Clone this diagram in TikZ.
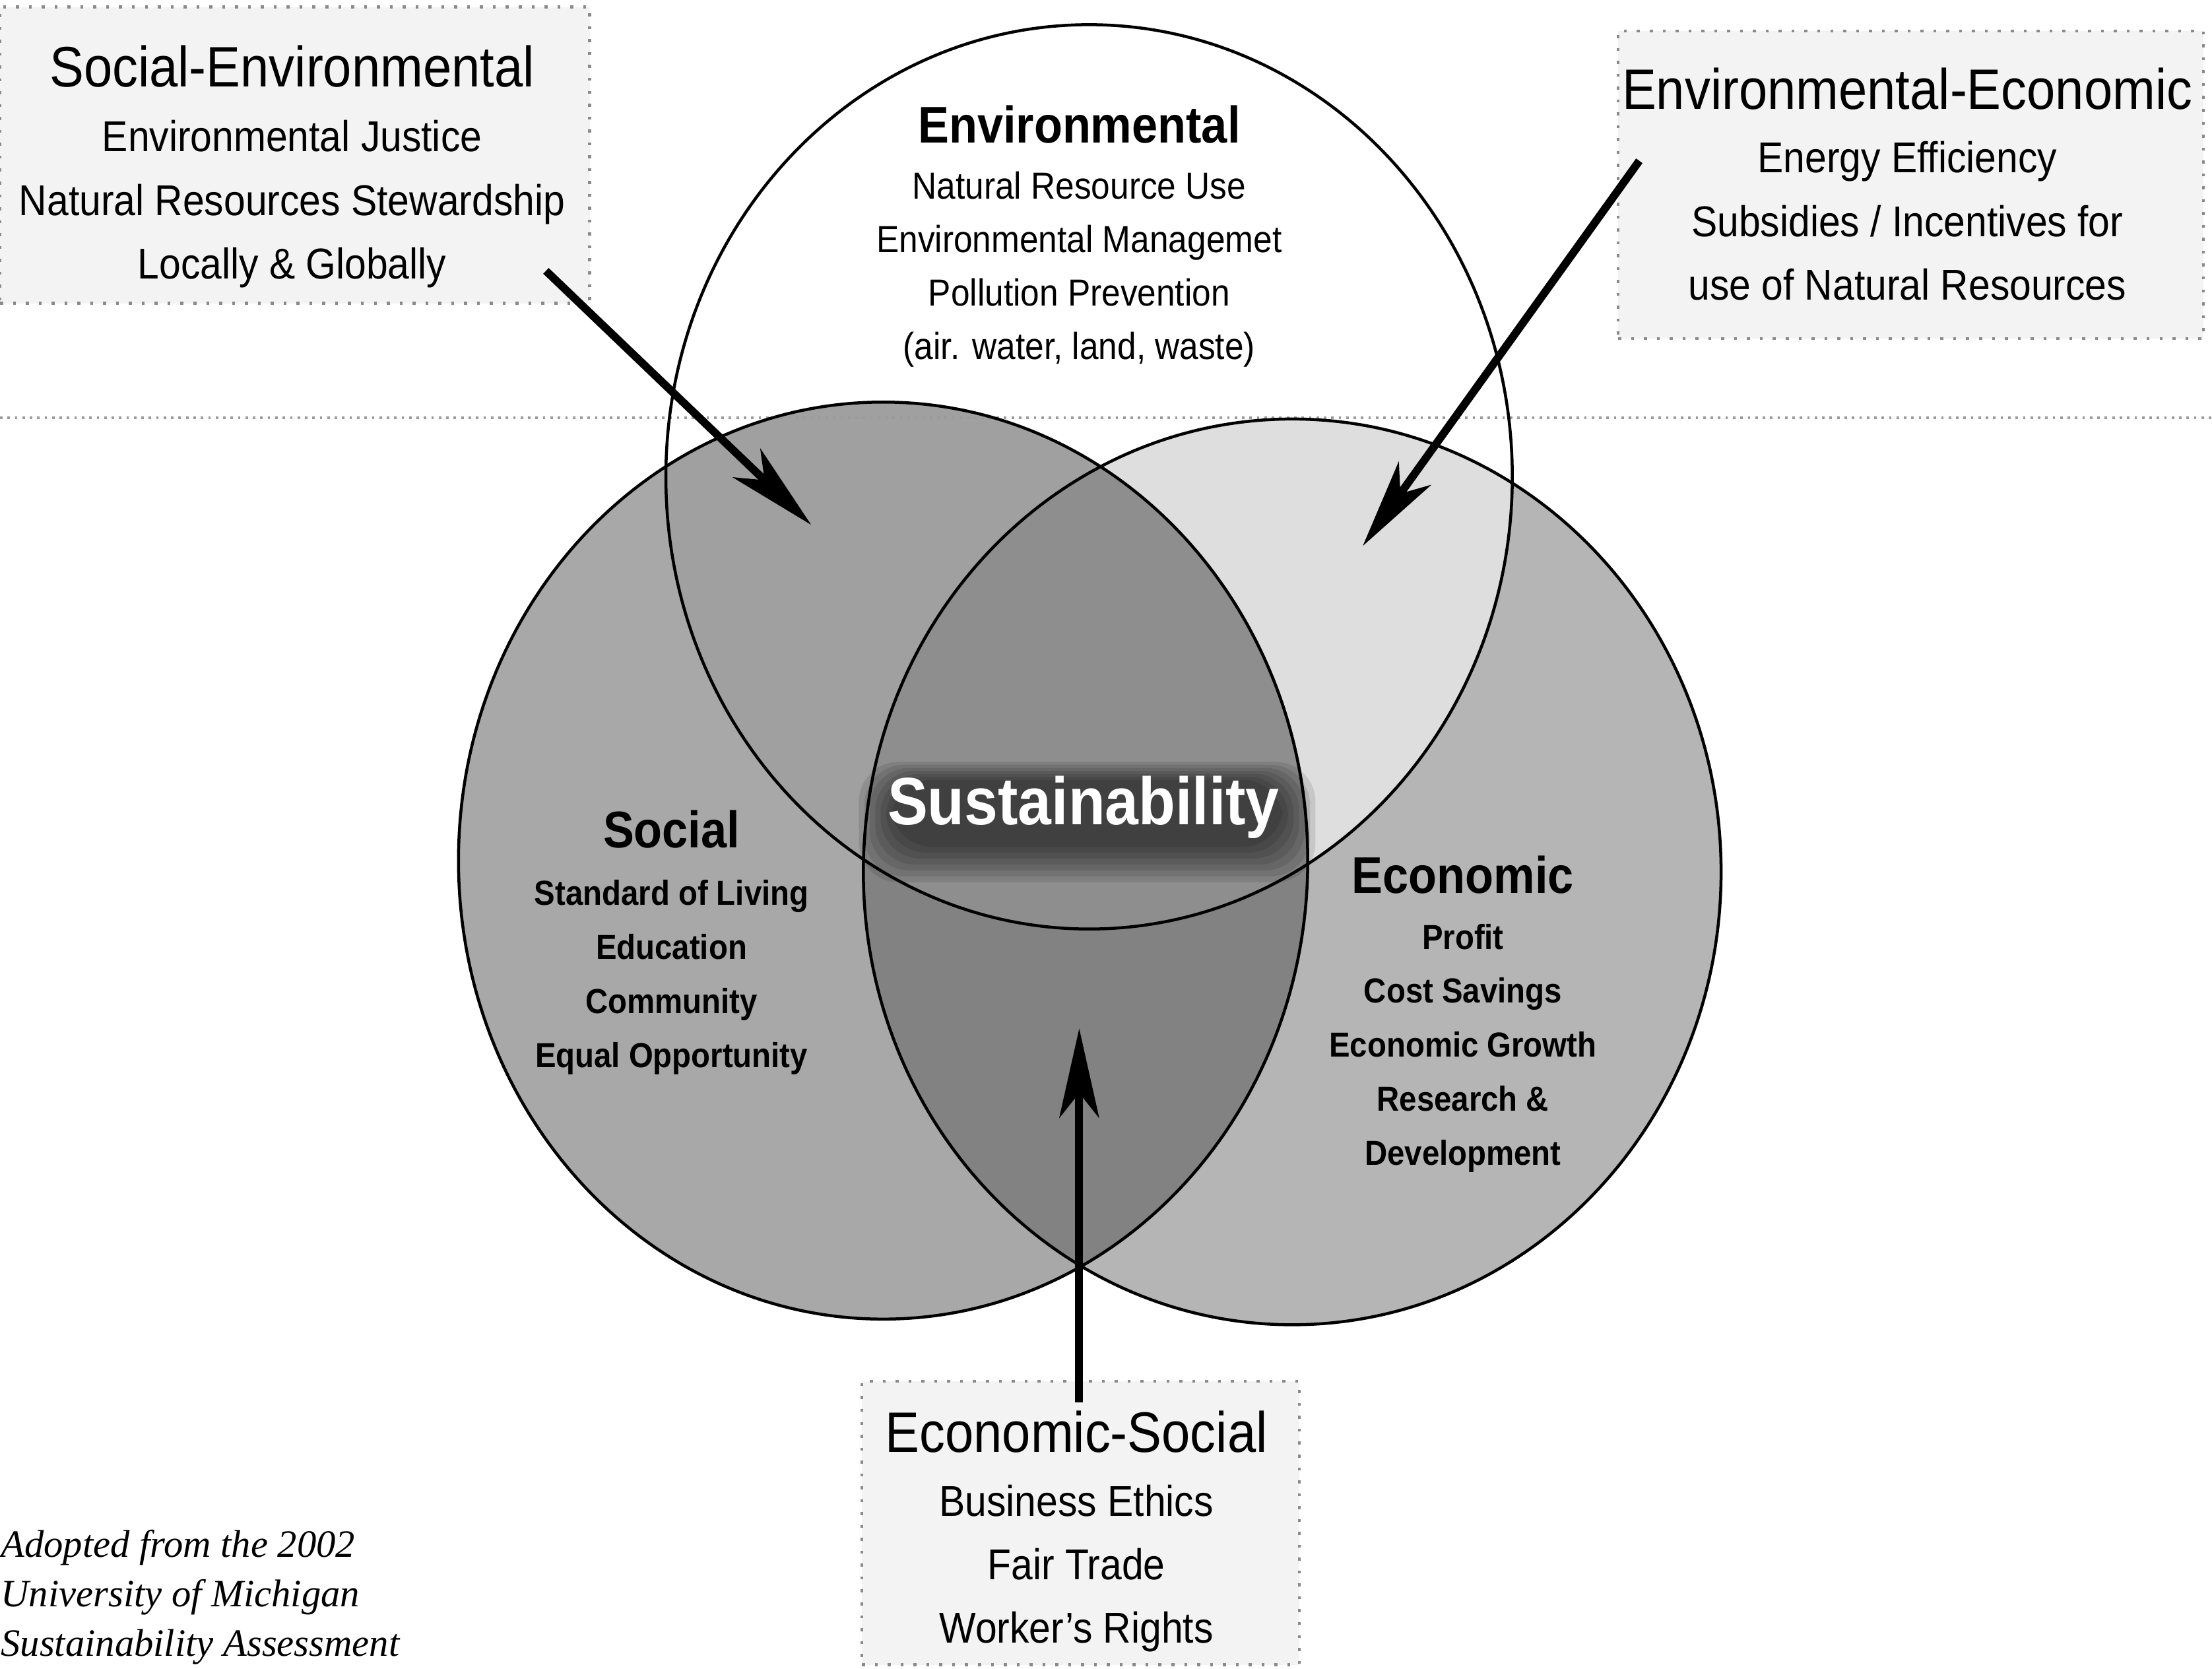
\documentclass[tikz,border=0pt]{standalone}
\usepackage{fontspec}
\setmainfont{Liberation Sans}[FakeStretch=0.9]
\newfontfamily\creditfont{Liberation Serif}
\usetikzlibrary{positioning,arrows.meta}

\pgfdeclarelayer{front}
\pgfsetlayers{main,front}

\definecolor{socialFill}{HTML}{A8A8A8}
\definecolor{economicFill}{HTML}{B5B5B5}
\definecolor{socEcoFill}{HTML}{828282}
\definecolor{envSocFill}{HTML}{A0A0A0}
\definecolor{envEcoFill}{HTML}{DEDEDE}
\definecolor{coreFill}{HTML}{8E8E8E}
\definecolor{boxFill}{HTML}{F3F3F3}
\definecolor{boxBorder}{HTML}{8A8A8A}
\definecolor{seamGray}{HTML}{9A9A9A}

% the three circles
\newcommand{\envcircle}{(7.72,8.45) ellipse [x radius=3.00, y radius=3.205]}
\newcommand{\soccircle}{(6.26,5.73) ellipse [x radius=3.01, y radius=3.25]}
\newcommand{\ecocircle}{(9.16,5.65) ellipse [x radius=3.04, y radius=3.21]}

\begin{document}
\begin{tikzpicture}[
    infobox/.style={
        draw=boxBorder, dotted, line width=0.6pt,
        fill=boxFill, inner sep=0pt
    },
    boxhead/.style={inner sep=0pt, font=\fontsize{11.5}{13}\selectfont},
    boxitems/.style={inner sep=0pt, align=center, font=\fontsize{8.7}{12.8}\selectfont},
    circhead/.style={inner sep=0pt, font=\bfseries\fontsize{10.4}{12}\selectfont},
    envitems/.style={inner sep=0pt, align=center, font=\fontsize{7.6}{10.8}\selectfont},
    circitems/.style={inner sep=0pt, align=center, font=\bfseries\fontsize{7}{10.9}\selectfont},
    sustmain/.style={inner sep=0pt, text=white, font=\bfseries\fontsize{13.5}{16}\selectfont},
    sustglow/.style={fill=black, opacity=0.1, rounded corners=8pt},
    credit/.style={anchor=west, inner sep=0pt, align=left,
        font=\creditfont\itshape\fontsize{7.8}{10}\selectfont},
    ring/.style={draw=black, line width=0.6pt},
    seam/.style={draw=seamGray, densely dotted, line width=0.5pt},
    arrow/.style={-{Stealth[length=18pt, width=8pt, inset=5pt]}, line width=1.6pt}
]
  \useasboundingbox (0,0) rectangle (15.68,11.83);

  % Side boxes
  \node[infobox, minimum width=4.18cm, minimum height=2.10cm] (socenvBox) at (2.09,10.73) {};
  \node[infobox, minimum width=4.15cm, minimum height=2.18cm] (enveconBox) at (13.545,10.52) {};
  \node[infobox, minimum width=3.10cm, minimum height=2.01cm] (ecosocBox) at (7.66,1.035) {};

  % Circle fills
  \fill[socialFill] \soccircle;
  \fill[economicFill] \ecocircle;
  \begin{scope}
    \clip \soccircle;
    \fill[socEcoFill] \ecocircle;
  \end{scope}
  \begin{scope}
    \clip \envcircle;
    \fill[envEcoFill] \ecocircle;
    \fill[envSocFill] \soccircle;
    \clip \soccircle;
    \fill[coreFill] \ecocircle;
  \end{scope}

  \draw[seam] (0,8.87) -- (15.68,8.87);

  % Circle outlines
  \draw[ring] \soccircle;
  \draw[ring] \ecocircle;
  \draw[ring] \envcircle;

  % Circle labels
  \node[circhead] (envHead) at (7.65,10.95) {Environmental};
  \node[envitems, below=5.3pt of envHead] (envItems)
      {Natural Resource Use\\Environmental Managemet\\Pollution Prevention\\(air. water, land, waste)};

  \node[circhead] (socHead) at (4.76,5.95) {Social};
  \node[circitems, below=6pt of socHead] (socItems)
      {Standard of Living\\Education\\Community\\Equal Opportunity};

  \node[circhead] (ecoHead) at (10.37,5.63) {Economic};
  \node[circitems, below=5.7pt of ecoHead] (ecoItems)
      {Profit\\Cost Savings\\Economic Growth\\Research \&\\Development};

  % Centre label on a soft dark glow
  \begin{pgfonlayer}{front}
    \node[sustmain] (sust) at (7.68,6.11) {Sustainability};
  \end{pgfonlayer}
  \foreach \r in {0,...,6}
    \fill[sustglow]
      ([xshift={-1.1pt*\r+1pt}, yshift={-1.2pt*\r-1.5pt}] sust.south west) rectangle
      ([xshift={1.1pt*\r+0.5pt}, yshift={0.6pt*\r-1pt}] sust.north east);

  % Box labels
  \node[boxhead] (socenvHead) at (2.07,11.36) {Social-Environmental};
  \node[boxitems, below=6.3pt of socenvHead] (socenvItems)
      {Environmental Justice\\Natural Resources Stewardship\\Locally \& Globally};

  \node[boxhead] (enveconHead) at (13.52,11.20) {Environmental-Economic};
  \node[boxitems, below=6pt of enveconHead] (enveconItems)
      {Energy Efficiency\\Subsidies / Incentives for\\use of Natural Resources};

  \node[boxhead] (ecosocHead) at (7.63,1.68) {Economic-Social};
  \node[boxitems, below=6pt of ecosocHead] (ecosocItems)
      {Business Ethics\\Fair Trade\\Worker's Rights};

  \node[credit] (credit) at (0,0.51)
      {Adopted from the 2002\\University of Michigan\\Sustainability Assessment};

  % Pointers into the overlaps
  \coordinate (socenvTail) at (3.87,9.91);
  \coordinate (socenvTip) at (5.75,8.11);
  \coordinate (enveconTail) at (11.62,10.69);
  \coordinate (enveconTip) at (9.66,7.96);
  \coordinate (ecosocTail) at (7.65,1.89);
  \coordinate (ecosocTip) at (7.65,4.54);

  \draw[arrow] (socenvTail) -- (socenvTip);
  \draw[arrow] (enveconTail) -- (enveconTip);
  \draw[arrow] (ecosocTail) -- (ecosocTip);

\end{tikzpicture}
\end{document}
